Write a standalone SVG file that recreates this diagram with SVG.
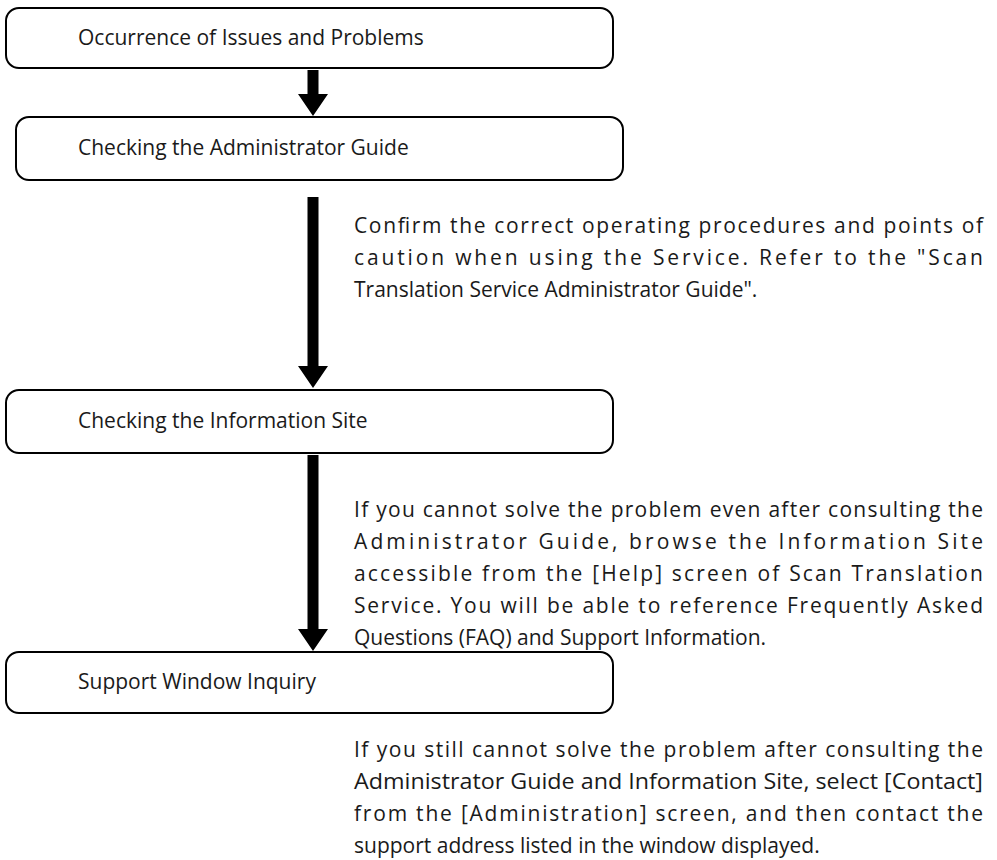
<svg xmlns="http://www.w3.org/2000/svg" width="997" height="860" viewBox="0 0 997 860">
<style>
.box{fill:#fff;stroke:#000;stroke-width:2}
.lbl{font-family:"Open Sans","Noto Sans",sans-serif;font-size:21px;fill:#1a1a1a}
.body{font-family:"Open Sans","Noto Sans",sans-serif;font-size:21px;fill:#1a1a1a}
.arr{fill:#000}
</style>
<rect width="997" height="860" fill="#fff"/>
<g id="connectors">
<path class="arr" d="M307.5,70 H318.5 V94 H328 L313,116 L298,94 H307.5 Z"/>
<path class="arr" d="M307.5,197 H318.5 V366 H328 L313,388 L298,366 H307.5 Z"/>
<path class="arr" d="M307.5,455 H318.5 V629 H328 L313,651 L298,629 H307.5 Z"/>
</g>
<g id="n1">
<rect class="box" x="6" y="8" width="607" height="60" rx="13"/>
<text class="lbl" x="78" y="45">Occurrence of Issues and Problems</text>
</g>
<g id="n2">
<rect class="box" x="16" y="117" width="607" height="63" rx="13"/>
<text class="lbl" x="78" y="155">Checking the Administrator Guide</text>
</g>
<g id="n3">
<rect class="box" x="6" y="390" width="607" height="63" rx="13"/>
<text class="lbl" x="78" y="428">Checking the Information Site</text>
</g>
<g id="n4">
<rect class="box" x="6" y="652" width="607" height="61" rx="13"/>
<text class="lbl" x="78" y="689">Support Window Inquiry</text>
</g>
<g id="t1">
<text class="body" x="354" y="233" textLength="629" lengthAdjust="spacing">Confirm the correct operating procedures and points of</text>
<text class="body" x="354" y="265" textLength="629" lengthAdjust="spacing">caution when using the Service. Refer to the "Scan</text>
<text class="body" x="354" y="297">Translation Service Administrator Guide".</text>
</g>
<g id="t2">
<text class="body" x="354" y="517" textLength="629" lengthAdjust="spacing">If you cannot solve the problem even after consulting the</text>
<text class="body" x="354" y="549" textLength="629" lengthAdjust="spacing">Administrator Guide, browse the Information Site</text>
<text class="body" x="354" y="581" textLength="629" lengthAdjust="spacing">accessible from the [Help] screen of Scan Translation</text>
<text class="body" x="354" y="613" textLength="629" lengthAdjust="spacing">Service. You will be able to reference Frequently Asked</text>
<text class="body" x="354" y="645">Questions (FAQ) and Support Information.</text>
</g>
<g id="t3">
<text class="body" x="354" y="757" textLength="629" lengthAdjust="spacing">If you still cannot solve the problem after consulting the</text>
<text class="body" x="354" y="789" textLength="629" lengthAdjust="spacingAndGlyphs">Administrator Guide and Information Site, select [Contact]</text>
<text class="body" x="354" y="821" textLength="629" lengthAdjust="spacing">from the [Administration] screen, and then contact the</text>
<text class="body" x="354" y="853">support address listed in the window displayed.</text>
</g>
</svg>
